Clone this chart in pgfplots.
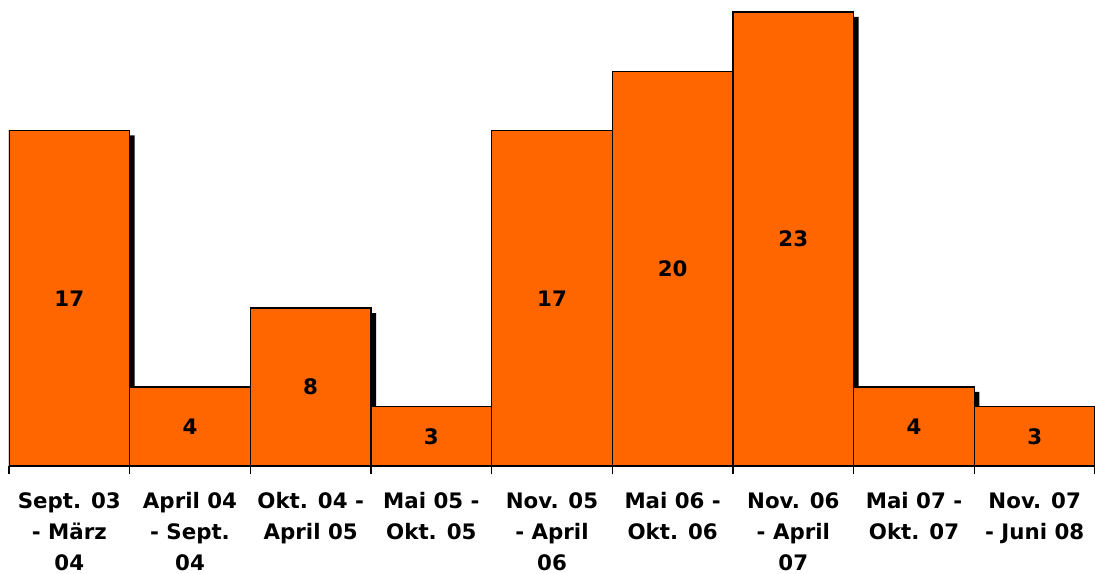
\documentclass[border=0pt]{standalone}
\usepackage{fontspec}
\setmainfont{DejaVu Sans}
\usepackage{pgfplots}
\pgfplotsset{compat=1.18}
\definecolor{barorange}{HTML}{FF6600}
\begin{document}
\begin{tikzpicture}
\begin{axis}[
  scale only axis,
  width=814.5pt, height=349.5pt,
  xmin=-0.5, xmax=8.5, ymin=0, ymax=23.61,
  axis y line=none,
  axis x line*=bottom,
  axis line style={black, line width=0.8pt},
  ybar, bar width=1,
  xtick={0,...,8},
  major tick length=0pt,
  minor xtick={-0.5,0.5,...,8.5},
  minor tick length=6pt,
  tick align=outside,
  tick style={black, line width=0.8pt},
  xticklabels={{Sept. 03\\- März\\04},{April 04\\- Sept.\\04},{Okt. 04 -\\April 05},{Mai 05 -\\Okt. 05},{Nov. 05\\- April\\06},{Mai 06 -\\Okt. 06},{Nov. 06\\- April\\07},{Mai 07 -\\Okt. 07},{Nov. 07\\- Juni 08}},
  xticklabel style={align=center, font=\fontsize{16}{23.25}\selectfont\bfseries, yshift=-16.5pt},
  clip=true,
]
\addplot[fill=black, draw=none, bar shift=3.75pt] coordinates {(0,16.75) (1,3.75) (2,7.75) (3,2.75) (4,16.75) (5,19.75) (6,22.75) (7,3.75) (8,2.75)};
\addplot[fill=barorange, draw=black, line width=1pt, bar shift=0pt] coordinates {(0,17) (1,4) (2,8) (3,3) (4,17) (5,20) (6,23) (7,4) (8,3)};
\addplot[draw=none, mark=none, nodes near coords, point meta=explicit symbolic, bar shift=0pt, fill=none,
  every node near coord/.style={anchor=center, font=\fontsize{16}{18}\selectfont\bfseries}]
  coordinates {(0,8.5)[17] (1,2)[4] (2,4)[8] (3,1.5)[3] (4,8.5)[17] (5,10)[20] (6,11.5)[23] (7,2)[4] (8,1.5)[3]};
\end{axis}
\pgfresetboundingbox
\path[use as bounding box] (-6.75pt,-81pt) rectangle (814.5pt,349.5pt);
\end{tikzpicture}
\end{document}
